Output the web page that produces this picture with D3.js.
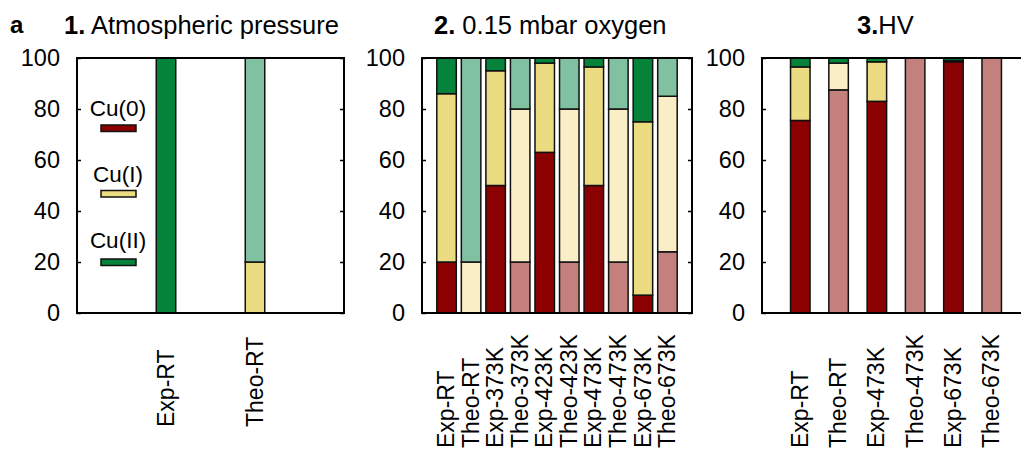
<!DOCTYPE html>
<html><head><meta charset="utf-8">
<script src="https://cdn.jsdelivr.net/npm/d3@7"></script>
<style>
body{margin:0;background:#fff;}
svg{display:block;font-family:"Liberation Sans",Arial,Helvetica,sans-serif;}
</style></head>
<body>
<svg id="c" width="1021" height="452"></svg>
<script>
const species = ["Cu(0)", "Cu(I)", "Cu(II)"];
const expColors = ["#8B0000", "#EBDC81", "#05833A"];
const theoColors = ["#C4807C", "#F9EEC6", "#7FC1A0"];
const yTicks = [0, 20, 40, 60, 80, 100];

const p1Cats = ["Exp-RT", "Theo-RT"];
const p1Cu0  = [0, 0];
const p1Cu1  = [0, 20];
const p1Cu2  = [100, 80];

const p2Cats = ["Exp-RT", "Theo-RT", "Exp-373K", "Theo-373K", "Exp-423K", "Theo-423K", "Exp-473K", "Theo-473K", "Exp-673K", "Theo-673K"];
const p2Cu0  = [20, 0, 50, 20, 63, 20, 50, 20, 7, 24];
const p2Cu1  = [66, 20, 45, 60, 35, 60, 46.5, 60, 68, 61];
const p2Cu2  = [14, 80, 5, 20, 2, 20, 3.5, 20, 25, 15];

const p3Cats = ["Exp-RT", "Theo-RT", "Exp-473K", "Theo-473K", "Exp-673K", "Theo-673K"];
const p3Cu0  = [75.5, 87.5, 83, 100, 98.5, 100];
const p3Cu1  = [21, 10.5, 15.5, 0, 0.5, 0];
const p3Cu2  = [3.5, 2, 1.5, 0, 1, 0];

// palette per segment ("e" = experimental shade, "t" = theoretical shade)
const p1Shade = [["e", "e", "e"], ["t", "e", "t"]];
const p3TheoRTShade = ["t", "t", "e"];

const titles = [
  {num: "1.", rest: " Atmospheric pressure"},
  {num: "2.", rest: " 0.15 mbar oxygen"},
  {num: "3.", rest: "HV"}
];

const svg = d3.select("#c");
const y = d3.scaleLinear().domain([0, 100]).range([313, 58]);

function defaultShade(cat) {
  const s = cat.startsWith("Theo") ? "t" : "e";
  return [s, s, s];
}

const panels = [
  {cats: p1Cats, vals: [p1Cu0, p1Cu1, p1Cu2], x0: 77, x1: 344, tx: 64, lblY: 427,
   shade: i => p1Shade[i]},
  {cats: p2Cats, vals: [p2Cu0, p2Cu1, p2Cu2], x0: 422, x1: 692, tx: 434, lblY: 448,
   shade: i => defaultShade(p2Cats[i])},
  {cats: p3Cats, vals: [p3Cu0, p3Cu1, p3Cu2], x0: 762, x1: 1030, tx: 857, lblY: 448,
   shade: i => p3Cats[i] === "Theo-RT" ? p3TheoRTShade : defaultShade(p3Cats[i])}
];

svg.append("text").attr("x", 10).attr("y", 33).attr("font-size", 24).attr("font-weight", "bold").text("a");

panels.forEach((p, pi) => {
  const g = svg.append("g");
  const x = d3.scaleLinear().domain([0, p.cats.length + 1]).range([p.x0, p.x1]);
  const bw = 19.5;
  const stack = d3.stack().keys([0, 1, 2]).value((d, k) => d[k]);
  const rows = p.cats.map((c, i) => [p.vals[0][i], p.vals[1][i], p.vals[2][i]]);
  const series = stack(rows);
  series.forEach((s, k) => {
    g.selectAll(null).data(s).join("rect")
      .filter(d => d[1] - d[0] > 0)
      .attr("x", d => x(rows.indexOf(d.data) + 1) - bw / 2)
      .attr("y", d => y(d[1]))
      .attr("width", bw)
      .attr("height", d => y(d[0]) - y(d[1]))
      .attr("fill", d => {
        const idx = rows.indexOf(d.data);
        return p.shade(idx)[k] === "t" ? theoColors[k] : expColors[k];
      })
      .attr("stroke", "#111").attr("stroke-width", 1.5);
  });

  // axes
  const yl = d3.axisLeft(y).tickValues(yTicks).tickSizeInner(-4).tickSizeOuter(0).tickPadding(17);
  const ya = g.append("g").attr("transform", `translate(${p.x0},0)`).call(yl);
  ya.select(".domain").remove();
  ya.selectAll("text").attr("font-size", 23.5).attr("font-family", "Liberation Sans, Arial, sans-serif").attr("fill", "#000");
  ya.selectAll("line").attr("stroke", "#000").attr("stroke-width", 1.5);
  const yr = d3.axisRight(y).tickValues(yTicks).tickSizeInner(-4).tickSizeOuter(0).tickFormat("");
  const yra = g.append("g").attr("transform", `translate(${p.x1},0)`).call(yr);
  yra.select(".domain").remove();
  yra.selectAll("line").attr("stroke", "#000").attr("stroke-width", 1.5);

  // frame
  g.append("rect").attr("x", p.x0).attr("y", y(100)).attr("width", p.x1 - p.x0).attr("height", y(0) - y(100))
    .attr("fill", "none").attr("stroke", "#000").attr("stroke-width", 2);

  // x labels
  g.selectAll(null).data(p.cats).join("text")
    .attr("transform", (d, i) => `translate(${x(i + 1)},${p.lblY}) rotate(-90)`)
    .attr("dy", "0.33em")
    .attr("font-size", 23)
    .attr("text-anchor", "start")
    .text(d => d);

  // title
  const t = svg.append("text").attr("x", p.tx).attr("y", 34).attr("font-size", 25.5);
  t.append("tspan").attr("font-weight", "bold").text(titles[pi].num);
  t.append("tspan").text(titles[pi].rest);
});

// legend
const legY = [{t: 116, r: 125}, {t: 181.5, r: 190.5}, {t: 248, r: 259}];
species.forEach((s, k) => {
  svg.append("text").attr("x", 118).attr("y", legY[k].t).attr("font-size", 22.5).attr("text-anchor", "middle").text(s);
  svg.append("rect").attr("x", 101).attr("y", legY[k].r).attr("width", 35).attr("height", 6.5)
    .attr("fill", expColors[k]).attr("stroke", "#111").attr("stroke-width", 1.5);
});
</script>
</body></html>
